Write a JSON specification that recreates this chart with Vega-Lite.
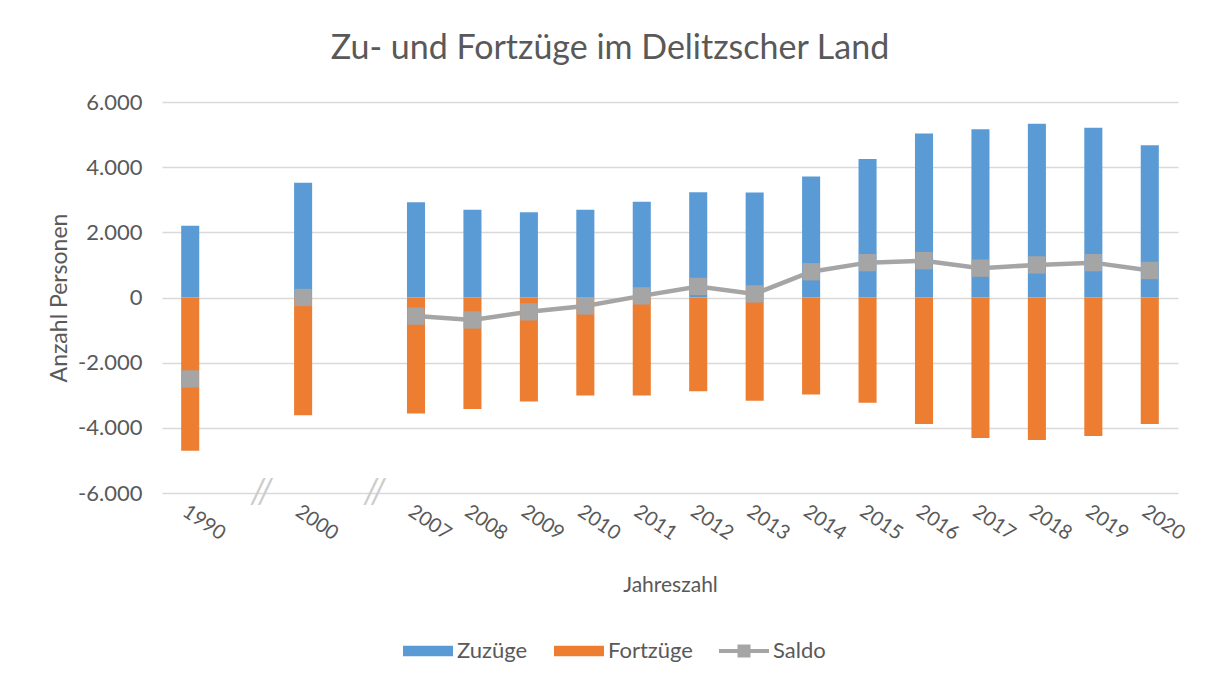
{
  "$schema": "https://vega.github.io/schema/vega-lite/v6.json",
  "width": 1016,
  "height": 391,
  "autosize": "none",
  "padding": {"left": 162, "top": 102, "right": 30, "bottom": 192},
  "background": "white",
  "config": {
    "font": "Lato",
    "locale": {"number": {"decimal": ",", "thousands": ".", "grouping": [3], "currency": ["", " €"], "minus": "-"}},
    "view": {"stroke": null},
    "axis": {"labelColor": "#595959", "titleColor": "#595959", "titleFontWeight": "normal", "domain": false, "ticks": false}
  },
  "title": {"text": "Zu- und Fortzüge im Delitzscher Land", "fontSize": 34, "fontWeight": "normal", "color": "#595959", "anchor": "middle", "frame": "group", "dx": -60, "offset": 25},
  "datasets": {
    "main": [
      {"Jahr": "1990", "Zuzüge": 2200, "Fortzüge": -4700, "Saldo": -2500},
      {"Jahr": "2000", "Zuzüge": 3520, "Fortzüge": -3610, "Saldo": 0},
      {"Jahr": "2007", "Zuzüge": 2920, "Fortzüge": -3560, "Saldo": -570},
      {"Jahr": "2008", "Zuzüge": 2690, "Fortzüge": -3420, "Saldo": -690},
      {"Jahr": "2009", "Zuzüge": 2620, "Fortzüge": -3190, "Saldo": -440},
      {"Jahr": "2010", "Zuzüge": 2690, "Fortzüge": -3010, "Saldo": -260},
      {"Jahr": "2011", "Zuzüge": 2940, "Fortzüge": -3010, "Saldo": 50},
      {"Jahr": "2012", "Zuzüge": 3230, "Fortzüge": -2880, "Saldo": 340},
      {"Jahr": "2013", "Zuzüge": 3220, "Fortzüge": -3170, "Saldo": 110},
      {"Jahr": "2014", "Zuzüge": 3710, "Fortzüge": -2980, "Saldo": 790},
      {"Jahr": "2015", "Zuzüge": 4250, "Fortzüge": -3230, "Saldo": 1070},
      {"Jahr": "2016", "Zuzüge": 5035, "Fortzüge": -3880, "Saldo": 1130},
      {"Jahr": "2017", "Zuzüge": 5160, "Fortzüge": -4310, "Saldo": 900},
      {"Jahr": "2018", "Zuzüge": 5330, "Fortzüge": -4370, "Saldo": 1000},
      {"Jahr": "2019", "Zuzüge": 5210, "Fortzüge": -4250, "Saldo": 1070},
      {"Jahr": "2020", "Zuzüge": 4670, "Fortzüge": -3880, "Saldo": 830}
    ],
    "gaps": [
      {"Jahr": "g1", "Wert": -6000, "Zeichen": "//"},
      {"Jahr": "g2", "Wert": -6000, "Zeichen": "//"}
    ]
  },
  "encoding": {
    "x": {
      "field": "Jahr", "type": "nominal",
      "scale": {"domain": ["1990", "g1", "2000", "g2", "2007", "2008", "2009", "2010", "2011", "2012", "2013", "2014", "2015", "2016", "2017", "2018", "2019", "2020"], "paddingInner": 0.68, "paddingOuter": 0.34},
      "axis": {"labelAngle": 34, "labelAlign": "left", "labelBaseline": "top", "labelPadding": 8, "labelFontSize": 20, "labelExpr": "indexof(datum.label, 'g') == 0 ? '' : datum.label", "title": "Jahreszahl", "titleFontSize": 21, "titlePadding": 31, "grid": false}
    },
    "y": {
      "field": "Wert", "type": "quantitative", "stack": null,
      "scale": {"domain": [-6000, 6000]},
      "axis": {"values": [-6000, -4000, -2000, 0, 2000, 4000, 6000], "format": ",d", "grid": true, "gridColor": "#d9d9d9", "gridWidth": 1.5, "labelFontSize": 22, "labelPadding": 20, "title": "Anzahl Personen", "titleFontSize": 23, "titlePadding": 6}
    }
  },
  "layer": [
    {
      "data": {"name": "main"},
      "transform": [{"fold": ["Zuzüge", "Fortzüge"], "as": ["Serie", "Wert"]}],
      "mark": {"type": "bar"},
      "encoding": {
        "color": {
          "field": "Serie", "type": "nominal",
          "scale": {"domain": ["Zuzüge", "Fortzüge", "Saldo"], "range": ["#5B9BD5", "#ED7D31", "#A5A5A5"]},
          "legend": {
            "orient": "none", "legendX": 241, "legendY": 524, "direction": "horizontal", "title": null,
            "labelFontSize": 22, "labelColor": "#595959", "symbolSize": 2500, "columnPadding": 26, "labelOffset": 4, "padding": 0,
            "encode": {"symbols": {"update": {
              "shape": {"signal": "datum.value === 'Saldo' ? 'M-1,-0.08H-0.26V-0.26H0.26V-0.08H1V0.08H0.26V0.26H-0.26V0.08H-1Z' : 'M-1,-0.21H1V0.21H-1Z'"},
              "fill": {"signal": "scale('color', datum.value)"},
              "strokeWidth": {"value": 0},
              "opacity": {"value": 1}
            }}}
          }
        }
      }
    },
    {
      "data": {"name": "main"},
      "transform": [{"filter": "datum.Jahr != '1990' && datum.Jahr != '2000'"}, {"fold": ["Saldo"], "as": ["Serie", "Wert"]}],
      "mark": {"type": "line", "strokeWidth": 4.5},
      "encoding": {"color": {"field": "Serie", "type": "nominal"}}
    },
    {
      "data": {"name": "main"},
      "transform": [{"fold": ["Saldo"], "as": ["Serie", "Wert"]}],
      "mark": {"type": "point", "shape": "square", "filled": true, "size": 300, "opacity": 1},
      "encoding": {"color": {"field": "Serie", "type": "nominal"}}
    },
    {
      "data": {"name": "gaps"},
      "mark": {"type": "text", "fontSize": 34, "fontStyle": "italic", "color": "#cccccc", "dx": 15, "baseline": "middle"},
      "encoding": {"text": {"field": "Zeichen"}}
    }
  ]
}
